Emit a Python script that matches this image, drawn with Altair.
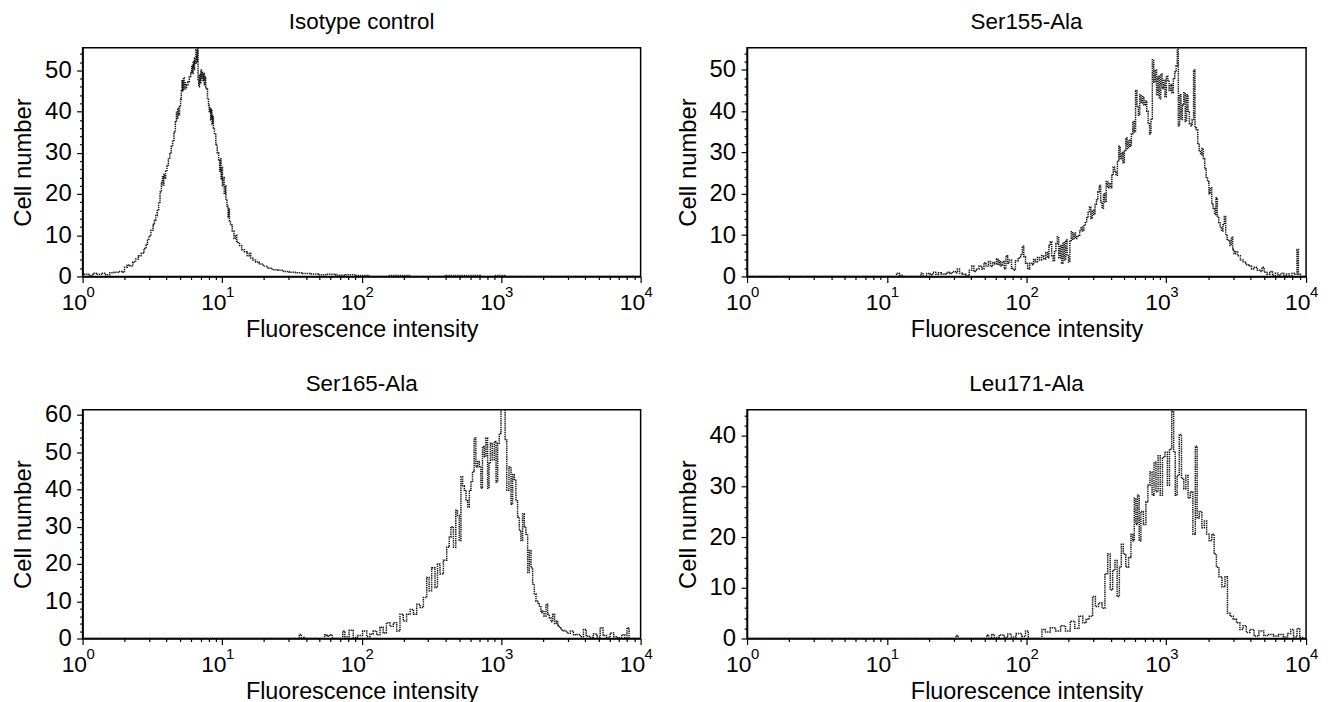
import altair as alt
import pandas as pd

FONT = "Liberation Sans"

# (log10 fluorescence intensity, cell number)
isotype = [(0.00,0.3),(0.03,0.5),(0.06,0.2),(0.09,0.8),(0.12,0.5),(0.15,0.8),(0.18,0.4),(0.21,0.9),(0.24,1.0),(0.27,1.2),(0.29,1.0),(0.31,2.2),(0.33,2.8),(0.35,2.5),(0.37,3.5),(0.39,4.2),(0.41,5.0),(0.43,5.6),(0.45,6.8),(0.46,7.8),(0.47,8.8),(0.48,9.8),(0.50,11.2),(0.51,12.6),(0.52,13.6),(0.53,14.8),(0.54,16.2),(0.55,18.0),(0.56,20.5),(0.57,22.8),(0.575,24.2),(0.58,22.2),(0.585,24.8),(0.59,23.8),(0.60,25.5),(0.61,27.0),(0.62,28.5),(0.63,30.0),(0.64,31.5),(0.65,33.0),(0.66,35.0),(0.67,37.5),(0.675,39.8),(0.68,38.2),(0.685,40.8),(0.69,39.2),(0.70,41.2),(0.705,43.0),(0.71,45.0),(0.715,47.5),(0.72,45.0),(0.725,48.2),(0.73,45.5),(0.735,47.2),(0.74,45.5),(0.75,46.5),(0.76,47.2),(0.77,48.5),(0.78,49.5),(0.785,51.2),(0.79,49.2),(0.795,52.2),(0.80,50.2),(0.805,53.0),(0.81,51.5),(0.815,55.0),(0.82,52.0),(0.825,55.5),(0.83,47.5),(0.835,46.0),(0.84,49.0),(0.845,47.0),(0.85,50.0),(0.855,48.0),(0.86,49.5),(0.865,47.5),(0.87,49.2),(0.875,46.5),(0.88,48.5),(0.885,46.0),(0.89,45.5),(0.90,43.0),(0.905,41.5),(0.91,40.0),(0.915,41.0),(0.92,38.0),(0.925,40.5),(0.93,37.0),(0.935,39.0),(0.94,36.0),(0.95,34.5),(0.96,32.0),(0.97,30.0),(0.98,28.0),(0.985,25.5),(0.99,28.5),(0.995,23.5),(1.00,26.5),(1.005,22.0),(1.01,24.0),(1.02,20.0),(1.025,22.0),(1.03,18.5),(1.04,17.0),(1.045,14.5),(1.05,16.5),(1.055,13.5),(1.065,12.5),(1.08,11.0),(1.09,9.2),(1.10,10.0),(1.11,8.5),(1.12,8.0),(1.13,7.5),(1.15,6.5),(1.17,6.0),(1.19,5.0),(1.20,5.6),(1.21,4.5),(1.23,4.0),(1.25,3.5),(1.28,3.0),(1.31,2.5),(1.34,2.0),(1.38,1.6),(1.42,1.5),(1.46,1.2),(1.50,1.0),(1.55,0.9),(1.60,0.7),(1.66,0.6),(1.72,0.4),(1.78,0.5),(1.85,0.3),(1.92,0.4),(2.00,0.2),(2.10,0.0),(2.30,0.2),(2.40,0.0),(2.80,0.2),(2.90,0.0),(3.00,0.2),(3.05,0.0),(4.00,0.0)]

ser155 = [(0.00,0),(1.06,0),(1.08,0.8),(1.10,0.3),(1.12,0),(1.24,0),(1.25,0.8),(1.27,0),(1.30,0.7),(1.32,0.4),(1.34,1.0),(1.36,0.5),(1.38,0.9),(1.40,0.6),(1.42,0.5),(1.44,1.0),(1.46,0.7),(1.48,1.2),(1.50,0.9),(1.51,1.8),(1.53,0.8),(1.55,0.5),(1.58,0.2),(1.60,1.5),(1.615,2.5),(1.63,1.2),(1.65,1.8),(1.67,2.5),(1.69,1.8),(1.70,3.3),(1.72,2.5),(1.735,3.6),(1.75,2.4),(1.765,3.4),(1.78,3.0),(1.79,4.2),(1.80,2.8),(1.81,3.8),(1.82,2.6),(1.835,3.6),(1.845,1.8),(1.86,5.0),(1.87,3.2),(1.885,4.0),(1.90,2.0),(1.91,1.5),(1.93,3.8),(1.95,4.5),(1.965,5.2),(1.975,7.3),(1.985,4.8),(2.00,3.2),(2.015,1.8),(2.03,3.2),(2.045,2.8),(2.055,4.1),(2.07,3.5),(2.085,4.6),(2.10,4.0),(2.115,5.0),(2.13,4.2),(2.145,5.8),(2.155,4.5),(2.165,7.5),(2.175,8.4),(2.185,5.0),(2.195,3.8),(2.205,6.0),(2.215,8.0),(2.225,9.6),(2.235,4.5),(2.245,7.5),(2.255,3.2),(2.265,8.2),(2.275,4.0),(2.285,8.8),(2.295,5.0),(2.305,3.5),(2.315,8.5),(2.325,10.8),(2.335,9.0),(2.345,10.5),(2.355,9.2),(2.365,9.8),(2.375,10.0),(2.385,11.0),(2.395,12.0),(2.405,11.0),(2.415,12.5),(2.425,13.0),(2.435,14.2),(2.445,15.5),(2.455,16.8),(2.465,14.0),(2.475,16.0),(2.485,15.0),(2.495,17.5),(2.505,18.5),(2.515,20.5),(2.525,22.0),(2.535,18.0),(2.545,16.5),(2.555,20.0),(2.565,18.0),(2.575,23.0),(2.585,21.5),(2.595,22.5),(2.605,21.5),(2.615,24.5),(2.625,26.5),(2.635,25.5),(2.645,24.5),(2.655,28.0),(2.665,31.5),(2.675,28.5),(2.685,30.0),(2.695,27.5),(2.705,30.5),(2.715,33.5),(2.725,31.0),(2.735,33.0),(2.745,31.5),(2.755,34.5),(2.765,37.5),(2.775,35.0),(2.785,45.0),(2.795,41.0),(2.805,39.0),(2.815,44.0),(2.825,42.0),(2.835,43.5),(2.845,41.5),(2.855,42.5),(2.865,40.0),(2.875,37.0),(2.885,34.5),(2.895,38.0),(2.905,52.5),(2.915,47.0),(2.925,50.0),(2.935,44.0),(2.945,48.5),(2.955,43.0),(2.965,49.0),(2.975,45.5),(2.985,47.5),(2.995,43.5),(3.005,48.5),(3.015,47.5),(3.025,45.0),(3.035,46.5),(3.045,44.5),(3.055,48.0),(3.065,49.5),(3.075,51.0),(3.082,55.0),(3.09,36.5),(3.10,44.0),(3.11,38.0),(3.12,41.5),(3.13,44.5),(3.14,37.5),(3.15,44.0),(3.16,40.0),(3.17,37.0),(3.18,36.5),(3.19,38.0),(3.20,50.0),(3.21,36.0),(3.22,35.5),(3.23,32.0),(3.24,30.5),(3.25,29.5),(3.26,31.0),(3.27,28.5),(3.28,26.0),(3.29,24.0),(3.30,23.0),(3.31,20.0),(3.32,21.5),(3.33,17.5),(3.34,16.5),(3.35,15.0),(3.36,19.0),(3.37,14.5),(3.38,13.0),(3.39,12.0),(3.40,11.0),(3.41,12.5),(3.42,14.5),(3.43,10.0),(3.44,9.0),(3.45,8.5),(3.46,7.5),(3.47,9.5),(3.48,6.5),(3.49,5.5),(3.50,6.0),(3.52,5.0),(3.54,4.0),(3.56,3.5),(3.58,2.8),(3.60,2.5),(3.62,1.8),(3.64,2.2),(3.66,1.5),(3.68,1.2),(3.69,2.2),(3.71,1.0),(3.73,0.5),(3.75,1.2),(3.77,0.2),(3.79,0.8),(3.81,0.3),(3.83,0.8),(3.85,0.2),(3.87,0.6),(3.89,0.0),(3.91,0.8),(3.93,0.5),(3.94,6.5),(3.95,0.5),(3.97,0.0),(4.00,0.0)]

ser165 = [(0.00,0),(1.55,0),(1.557,1.1),(1.58,0.3),(1.60,0),(1.73,0),(1.74,1.0),(1.76,0.6),(1.78,1.0),(1.80,0),(1.86,0),(1.87,2.0),(1.89,0.5),(1.93,2.2),(1.95,0.3),(1.99,0.8),(2.024,2.0),(2.05,0.5),(2.07,1.2),(2.096,2.0),(2.12,1.0),(2.144,3.0),(2.165,1.5),(2.19,4.2),(2.215,3.3),(2.24,4.2),(2.263,2.0),(2.287,6.5),(2.31,4.7),(2.335,6.5),(2.36,7.8),(2.383,6.5),(2.407,9.2),(2.43,8.3),(2.455,11.0),(2.478,16.4),(2.49,12.8),(2.514,19.0),(2.538,13.7),(2.55,20.0),(2.574,17.3),(2.598,21.0),(2.622,24.5),(2.634,27.2),(2.646,30.0),(2.67,24.5),(2.68,34.4),(2.694,33.0),(2.706,26.3),(2.718,43.4),(2.73,41.0),(2.742,39.8),(2.755,37.0),(2.766,35.3),(2.778,39.8),(2.79,42.0),(2.80,44.8),(2.813,53.8),(2.825,46.0),(2.838,47.5),(2.85,46.0),(2.86,40.3),(2.873,51.5),(2.885,48.8),(2.897,53.8),(2.909,40.3),(2.918,47.0),(2.928,52.4),(2.945,48.0),(2.957,52.9),(2.97,42.0),(2.98,52.4),(2.993,55.0),(3.005,61.6),(3.024,61.6),(3.033,53.3),(3.048,39.8),(3.065,46.0),(3.077,36.0),(3.088,44.0),(3.10,42.5),(3.112,37.0),(3.124,32.6),(3.136,29.0),(3.148,26.3),(3.16,33.5),(3.172,30.0),(3.184,28.0),(3.196,17.7),(3.208,23.6),(3.22,19.0),(3.232,14.6),(3.244,12.0),(3.256,10.0),(3.268,9.5),(3.28,8.7),(3.29,7.0),(3.30,7.4),(3.315,6.0),(3.328,9.2),(3.34,6.5),(3.35,5.6),(3.363,4.5),(3.376,6.5),(3.39,4.0),(3.40,4.7),(3.412,3.5),(3.423,2.9),(3.44,2.2),(3.46,2.0),(3.485,1.4),(3.507,2.0),(3.53,1.0),(3.555,1.1),(3.58,0.5),(3.60,2.4),(3.62,0.6),(3.645,0.3),(3.675,1.2),(3.70,0.4),(3.72,2.9),(3.74,0.8),(3.77,0.3),(3.794,1.5),(3.82,0.5),(3.85,0.2),(3.878,1.0),(3.895,0.3),(3.909,2.9),(3.925,0.0),(4.00,0.0)]

leu171 = [(0.00,0),(1.49,0),(1.50,0.6),(1.52,0),(1.71,0),(1.72,0.7),(1.74,0),(1.76,0.8),(1.78,0.2),(1.83,0.7),(1.85,0.2),(1.88,0.9),(1.90,0.3),(1.95,1.0),(1.98,0.4),(2.005,1.5),(2.02,0),(2.10,0),(2.12,1.8),(2.15,1.3),(2.19,2.1),(2.225,1.5),(2.262,2.5),(2.295,1.5),(2.33,3.4),(2.36,2.0),(2.39,4.4),(2.415,3.1),(2.438,3.8),(2.46,4.4),(2.485,8.3),(2.50,6.3),(2.53,7.0),(2.55,6.0),(2.571,12.8),(2.59,16.7),(2.607,9.6),(2.625,13.5),(2.64,15.4),(2.656,8.3),(2.672,14.1),(2.684,18.6),(2.70,16.7),(2.72,14.1),(2.74,16.0),(2.754,20.6),(2.765,19.3),(2.777,27.7),(2.788,22.5),(2.80,28.3),(2.812,19.3),(2.824,25.1),(2.848,22.5),(2.86,27.0),(2.876,30.3),(2.89,32.9),(2.906,28.3),(2.918,34.8),(2.934,29.0),(2.948,36.1),(2.965,28.3),(2.98,35.8),(3.00,36.8),(3.015,30.3),(3.03,37.4),(3.047,44.9),(3.058,36.8),(3.07,28.3),(3.085,32.2),(3.10,40.3),(3.117,31.6),(3.133,29.6),(3.147,32.2),(3.164,27.7),(3.18,29.0),(3.20,20.6),(3.215,38.0),(3.226,23.8),(3.245,25.1),(3.264,21.9),(3.28,23.2),(3.297,20.6),(3.316,19.3),(3.335,20.6),(3.35,16.7),(3.367,14.1),(3.386,12.2),(3.41,10.2),(3.43,12.2),(3.445,5.0),(3.468,4.4),(3.49,3.8),(3.515,3.1),(3.538,1.8),(3.56,2.5),(3.585,1.2),(3.61,1.8),(3.645,0.5),(3.68,1.5),(3.715,0.6),(3.75,0.8),(3.785,0.5),(3.82,0.8),(3.855,0.3),(3.88,1.0),(3.90,1.8),(3.92,0.3),(3.95,2.0),(3.96,0.2),(4.00,0.0)]

panel_titles = ["Isotype control", "Ser155-Ala", "Ser165-Ala", "Leu171-Ala"]
panel_ymax = [55.5, 55.4, 61.4, 45.2]

# decade tick labels: base "10" plus raised exponent
x_major = [1, 10, 100, 1000, 10000]
x_exponents = ["0", "1", "2", "3", "4"]
x_ticks = [m * 10 ** k for k in range(4) for m in range(1, 10)] + [10000]

H = 230
MAJOR_X = "indexof([1,10,100,1000,10000], datum.value) >= 0"


def panel(title, pairs, ymax, width):
    df = pd.DataFrame(pairs, columns=["decade", "count"])
    df["intensity"] = 10 ** df["decade"]
    xaxis = alt.Axis(
        values=x_ticks,
        labelExpr=f"{MAJOR_X} ? '10' : ''",
        labelAlign="right",
        labelOffset=4,
        labelFontSize=23,
        tickSize={"condition": {"test": MAJOR_X, "value": 6}, "value": 3},
        labelOverlap=False,
        labelFlush=False,
        labelPadding=9,
        titlePadding=3,
        title="Fluorescence intensity",
        titleFontSize=23.5,
        grid=False,
    )
    yaxis = alt.Axis(
        values=list(range(0, int(ymax) + 1, 2)),
        labelExpr="datum.value % 10 == 0 ? datum.label : ''",
        labelFontSize=24,
        tickSize={"condition": {"test": "datum.value % 10 == 0", "value": 6}, "value": 3},
        labelOverlap=False,
        labelPadding=5.5,
        titlePadding=9,
        title="Cell number",
        titleFontSize=24,
        grid=False,
    )
    xs = alt.X("intensity:Q",
               scale=alt.Scale(type="log", domain=[1, 10000], nice=False),
               axis=xaxis)
    ys = alt.Y("count:Q",
               scale=alt.Scale(domain=[0, ymax], nice=False, zero=True),
               axis=yaxis)
    hist = (
        alt.Chart(df)
        .mark_line(interpolate="step", color="#1a1a1a", strokeWidth=1.5,
                   strokeDash=[1.4, 0.8], clip=True)
        .encode(x=xs, y=ys)
    )
    exp_df = pd.DataFrame({"intensity": x_major, "exp": x_exponents})
    exps = (
        alt.Chart(exp_df)
        .mark_text(align="left", baseline="top", fontSize=15, font=FONT,
                   color="black", dx=4)
        .encode(x=alt.X("intensity:Q"), y=alt.value(H + 9), text="exp:N")
    )
    return (
        alt.layer(hist, exps, title=alt.Title(title))
        .properties(width=width, height=H)
    )


datasets = [isotype, ser155, ser165, leu171]
widths = [561, 562, 561, 562]
p = [panel(t, d, m, w) for t, d, m, w in zip(panel_titles, datasets, panel_ymax, widths)]

chart = (
    alt.vconcat(
        alt.hconcat(p[0], p[1], spacing=21),
        alt.hconcat(p[2], p[3], spacing=21),
        spacing=29,
    )
    .properties(padding={"left": 3, "top": 0, "right": 0, "bottom": 0})
    .configure_axis(
        domainColor="black", domainWidth=1.5, tickColor="black", tickWidth=1.2,
        labelColor="black", titleColor="black", labelFont=FONT, titleFont=FONT,
        titleFontWeight="normal",
    )
    .configure_view(stroke="black", strokeWidth=1.5)
    .configure_title(font=FONT, fontSize=22.5, fontWeight="normal", color="black",
                     offset=8, anchor="middle")
)

chart.save("out.html", embed_options={"renderer": "svg", "actions": False})
